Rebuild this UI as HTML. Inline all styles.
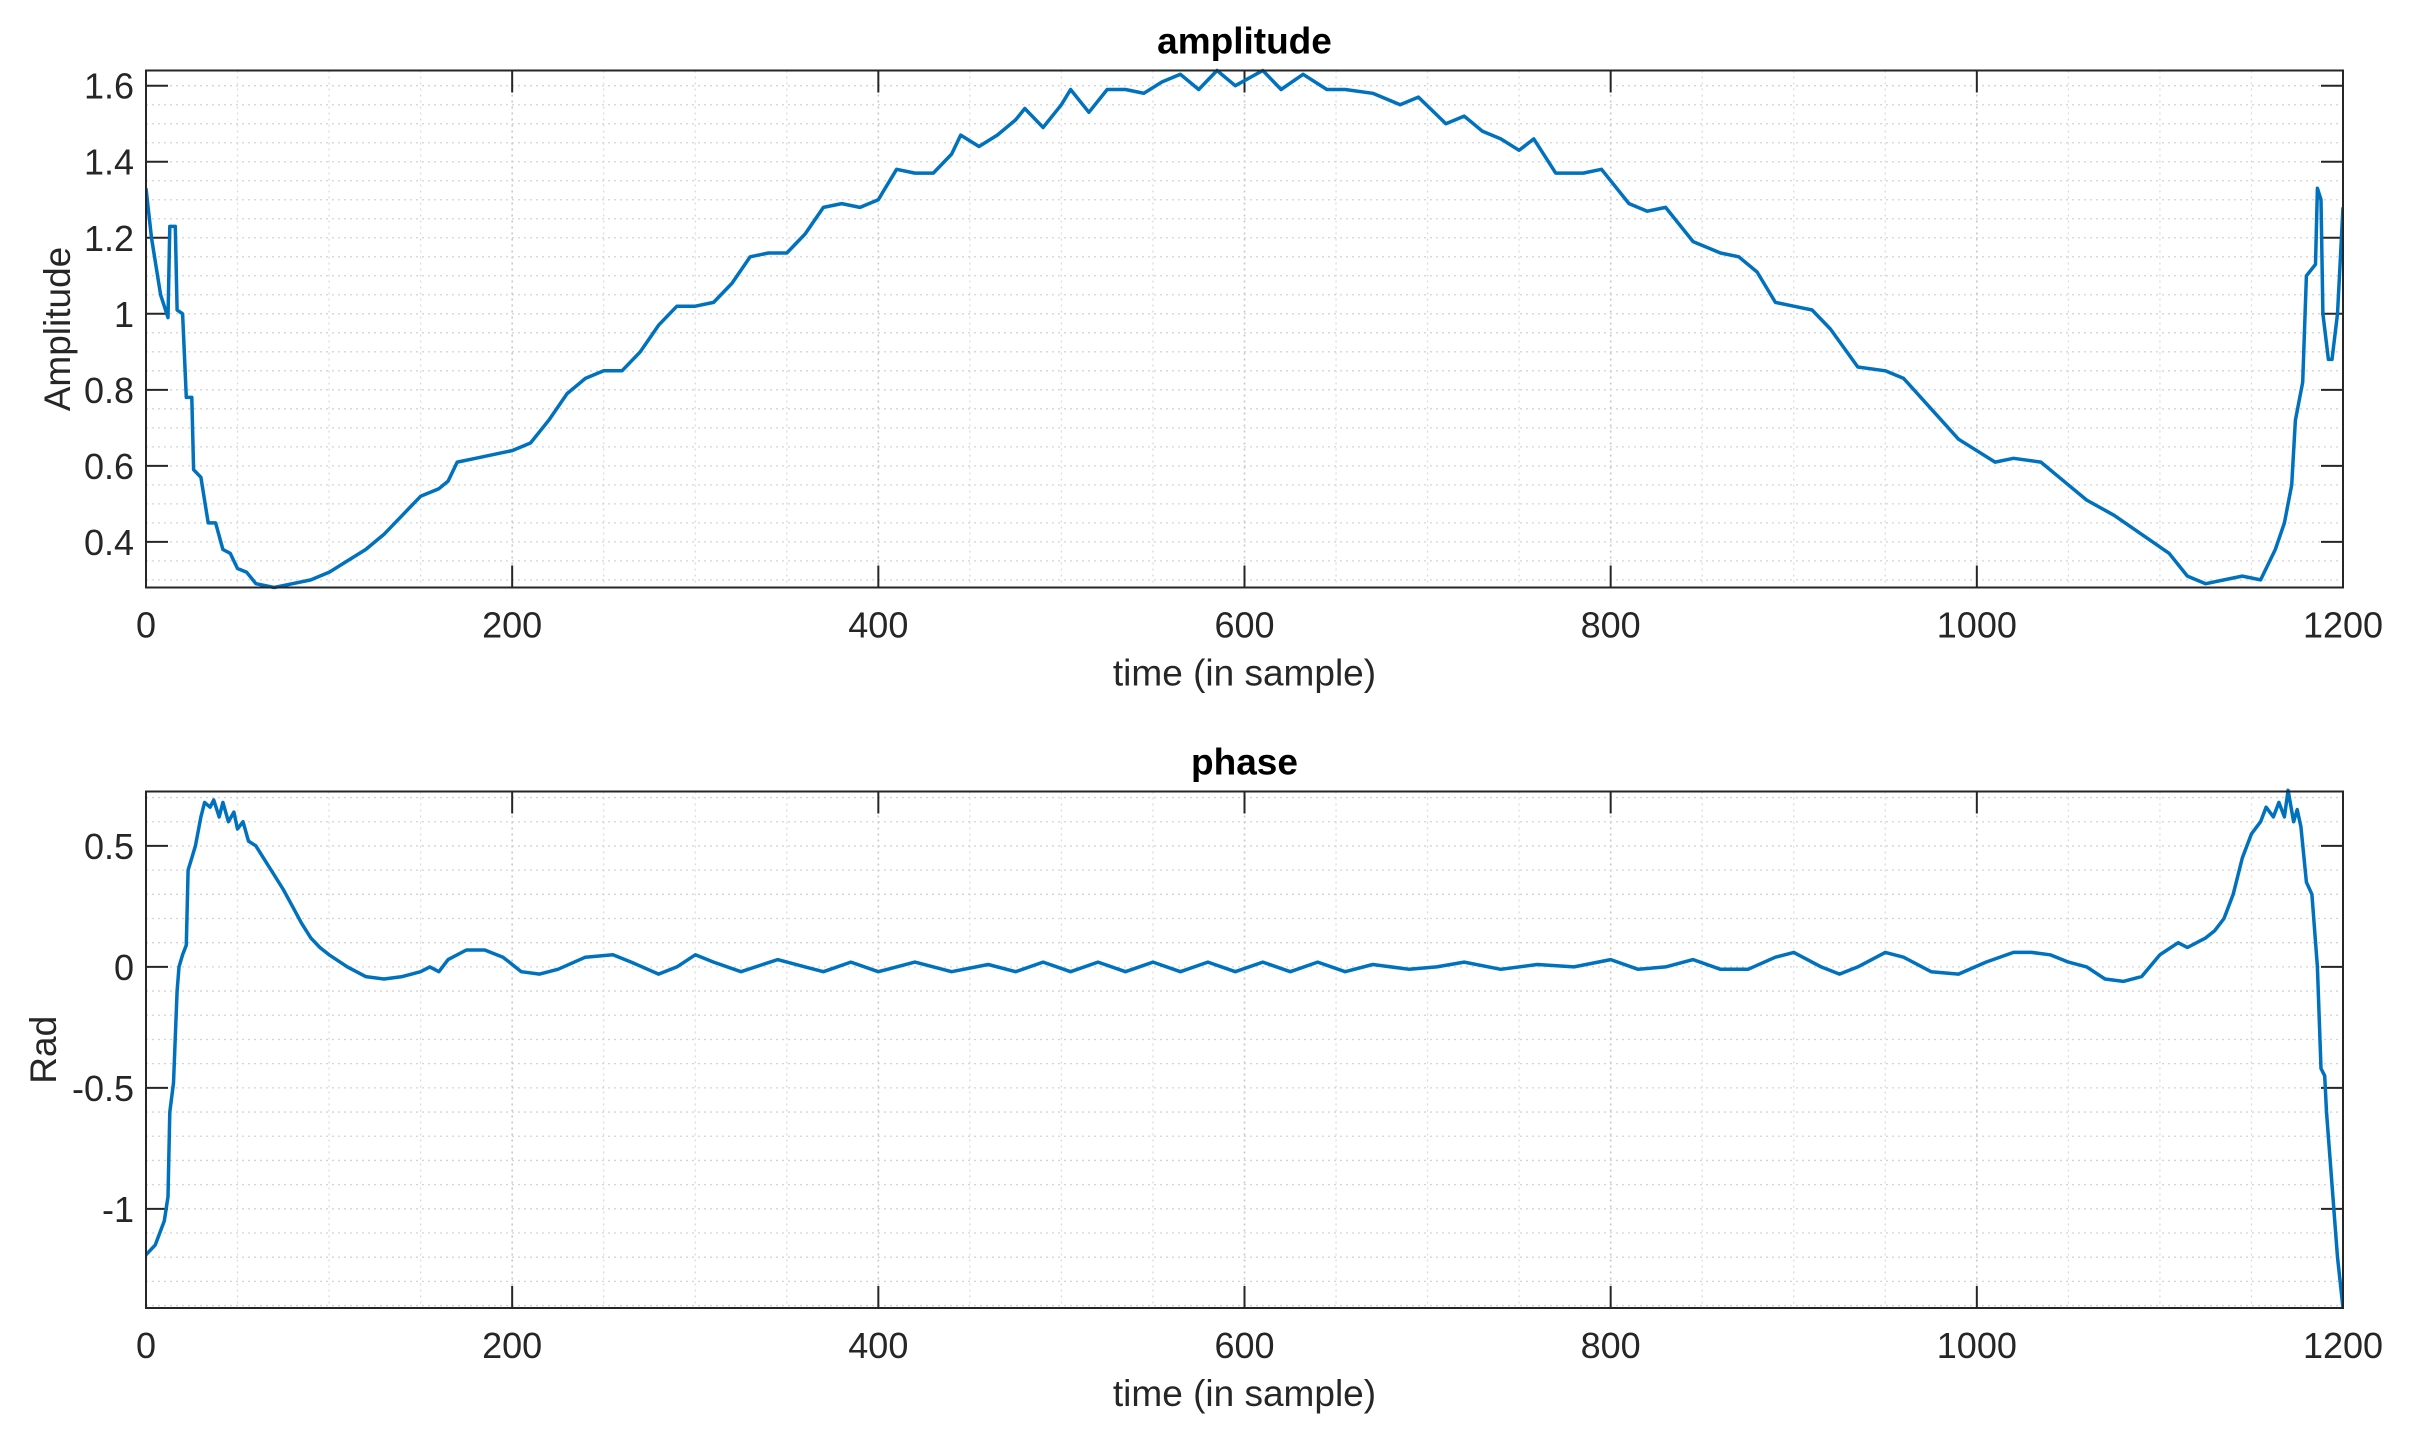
<!DOCTYPE html>
<html><head><meta charset="utf-8"><style>
html,body{margin:0;padding:0;background:#fff;}
svg text{font-family:"Liberation Sans",Arial,sans-serif;fill:#262626;}
</style></head><body>
<svg id="chart" width="2427" height="1443" viewBox="0 0 2427 1443" xmlns="http://www.w3.org/2000/svg"></svg>
<script>
const ampX=[0,3,8,12,13,16,17,20,22,25,26,30,34,38,42,46,50,55,60,70,80,90,100,110,120,130,140,150,160,165,170,180,190,200,210,220,230,240,250,260,270,280,290,300,310,320,330,340,350,360,370,380,390,400,410,420,430,440,445,455,465,475,480,490,500,505,515,525,535,545,555,565,575,585,595,610,620,632,645,655,670,685,695,710,720,730,740,750,758,770,785,795,810,820,830,845,860,870,880,890,900,910,920,935,950,960,975,990,1010,1020,1035,1045,1060,1075,1090,1105,1115,1125,1135,1145,1155,1158,1163,1168,1172,1174,1178,1180,1185,1186,1188,1189,1192,1194,1197,1200];
const ampY=[1.33,1.2,1.05,0.99,1.23,1.23,1.01,1.0,0.78,0.78,0.59,0.57,0.45,0.45,0.38,0.37,0.33,0.32,0.29,0.28,0.29,0.30,0.32,0.35,0.38,0.42,0.47,0.52,0.54,0.56,0.61,0.62,0.63,0.64,0.66,0.72,0.79,0.83,0.85,0.85,0.90,0.97,1.02,1.02,1.03,1.08,1.15,1.16,1.16,1.21,1.28,1.29,1.28,1.30,1.38,1.37,1.37,1.42,1.47,1.44,1.47,1.51,1.54,1.49,1.55,1.59,1.53,1.59,1.59,1.58,1.61,1.63,1.59,1.64,1.60,1.64,1.59,1.63,1.59,1.59,1.58,1.55,1.57,1.50,1.52,1.48,1.46,1.43,1.46,1.37,1.37,1.38,1.29,1.27,1.28,1.19,1.16,1.15,1.11,1.03,1.02,1.01,0.96,0.86,0.85,0.83,0.75,0.67,0.61,0.62,0.61,0.57,0.51,0.47,0.42,0.37,0.31,0.29,0.30,0.31,0.30,0.33,0.38,0.45,0.55,0.72,0.82,1.10,1.13,1.33,1.30,1.00,0.88,0.88,1.00,1.28];
const phX=[0,5,10,12,13,15,17,18,20,22,23,25,27,30,32,35,37,40,42,45,48,50,53,56,60,65,70,75,80,85,90,95,100,110,120,130,140,150,155,160,165,175,185,195,205,215,225,240,255,265,280,290,300,310,325,345,360,370,385,400,420,440,460,475,490,505,520,535,550,565,580,595,610,625,640,655,670,690,705,720,740,760,780,800,815,830,845,860,875,890,900,915,925,935,950,960,975,990,1005,1020,1030,1040,1050,1060,1070,1080,1090,1100,1110,1115,1125,1130,1135,1140,1145,1150,1155,1158,1162,1165,1168,1170,1173,1175,1177,1180,1183,1186,1188,1190,1191,1194,1197,1200];
const phY=[-1.19,-1.15,-1.05,-0.95,-0.6,-0.48,-0.1,0.0,0.05,0.09,0.4,0.45,0.5,0.62,0.68,0.66,0.69,0.62,0.68,0.6,0.64,0.57,0.6,0.52,0.5,0.44,0.38,0.32,0.25,0.18,0.12,0.08,0.05,0.0,-0.04,-0.05,-0.04,-0.02,0.0,-0.02,0.03,0.07,0.07,0.04,-0.02,-0.03,-0.01,0.04,0.05,0.02,-0.03,0.0,0.05,0.02,-0.02,0.03,0.0,-0.02,0.02,-0.02,0.02,-0.02,0.01,-0.02,0.02,-0.02,0.02,-0.02,0.02,-0.02,0.02,-0.02,0.02,-0.02,0.02,-0.02,0.01,-0.01,0.0,0.02,-0.01,0.01,0.0,0.03,-0.01,0.0,0.03,-0.01,-0.01,0.04,0.06,0.0,-0.03,0.0,0.06,0.04,-0.02,-0.03,0.02,0.06,0.06,0.05,0.02,0.0,-0.05,-0.06,-0.04,0.05,0.10,0.08,0.12,0.15,0.2,0.3,0.45,0.55,0.6,0.66,0.62,0.68,0.62,0.73,0.6,0.65,0.58,0.35,0.3,0.0,-0.42,-0.45,-0.6,-0.9,-1.2,-1.41];
const xTicks=[0,200,400,600,800,1000,1200];
const ampTicks=[0.4,0.6,0.8,1,1.2,1.4,1.6];
const phTicks=[-1,-0.5,0,0.5];

const svg=document.getElementById('chart');
const NS='http://www.w3.org/2000/svg';
function mk(tag,attrs,parent){const e=document.createElementNS(NS,tag);for(const k in attrs)e.setAttribute(k,attrs[k]);(parent||svg).appendChild(e);return e;}

function panel(cfg){
  const L=146,R=2343,T=cfg.top,B=cfg.bottom;
  const sx=v=>L+(v-0)/(1200-0)*(R-L);
  const sy=v=>B-(v-cfg.ymin)/(cfg.ymax-cfg.ymin)*(B-T);
  const g=mk('g',{});
  
  
  for(let v=50;v<1200;v+=50){const major=v%200===0;
    const l=mk('line',{x1:sx(v),x2:sx(v),y1:T,y2:B,stroke:major?'#c8c8c8':'#dcdcdc','stroke-width':major?1.6:1.3,'stroke-dasharray':'2,4'},g);
    }
  const start=Math.ceil(cfg.ymin/cfg.minor-1e-9);
  for(let k=start;k*cfg.minor<=cfg.ymax+1e-9;k++){const v=k*cfg.minor;
    const l=mk('line',{x1:L,x2:R,y1:sy(v),y2:sy(v),stroke:'#d4d4d4','stroke-width':1.3,'stroke-dasharray':'2,4'},g);
    }
  xTicks.forEach(v=>{
    mk('line',{x1:sx(v),x2:sx(v),y1:B,y2:B-22,stroke:'#262626','stroke-width':2},g);
    mk('line',{x1:sx(v),x2:sx(v),y1:T,y2:T+22,stroke:'#262626','stroke-width':2},g);
    const t=mk('text',{x:sx(v),y:B+50,'font-size':36,'text-anchor':'middle'},g);t.textContent=v;
    
  });
  cfg.ticks.forEach(v=>{
    mk('line',{x1:L,x2:L+22,y1:sy(v),y2:sy(v),stroke:'#262626','stroke-width':2},g);
    mk('line',{x1:R,x2:R-22,y1:sy(v),y2:sy(v),stroke:'#262626','stroke-width':2},g);
    const t=mk('text',{x:L-12,y:sy(v)+13,'font-size':36,'text-anchor':'end'},g);t.textContent=String(v);
    
  });
  const pts=cfg.xs.map((x,i)=>sx(x).toFixed(1)+','+sy(cfg.ys[i]).toFixed(1)).join(' ');
  const cp=mk('clipPath',{id:'clip-'+cfg.name},g);mk('rect',{x:L,y:T-3,width:R-L,height:B-T+6},cp);
  const pl=mk('polyline',{points:pts,fill:'none',stroke:'#0072BD','stroke-width':3.5,'stroke-linejoin':'round','clip-path':'url(#clip-'+cfg.name+')'},g);
  
  const box=mk('rect',{x:L,y:T,width:R-L,height:B-T,fill:'none',stroke:'#262626','stroke-width':2},g);
  
  const ti=mk('text',{x:(L+R)/2,y:T-17,'font-size':37,'font-weight':'bold','text-anchor':'middle',style:'fill:#000'},g);ti.textContent=cfg.name;
  
  const xl=mk('text',{x:(L+R)/2,y:B+98,'font-size':37,'text-anchor':'middle'},g);xl.textContent='time (in sample)';
  
  const yc=(T+B)/2;
  const yl=mk('text',{x:cfg.ylx,y:yc,'font-size':37,'text-anchor':'middle',transform:'rotate(-90 '+cfg.ylx+' '+yc+')'},g);yl.textContent=cfg.ylabel;
  
}
panel({name:'amplitude',top:70.5,bottom:587.5,ymin:0.28,ymax:1.64,minor:0.05,ticks:ampTicks,xs:ampX,ys:ampY,ylabel:'Amplitude',ylx:70});
panel({name:'phase',top:791.5,bottom:1308,ymin:-1.41,ymax:0.725,minor:0.1,ticks:phTicks,xs:phX,ys:phY,ylabel:'Rad',ylx:56});
</script>
</body></html>
